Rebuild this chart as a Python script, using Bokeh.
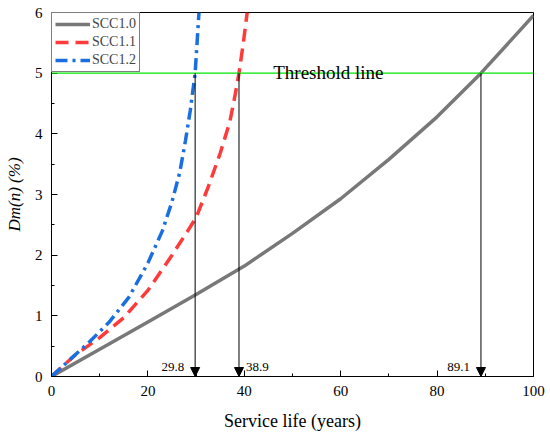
import math
from bokeh.plotting import figure
from bokeh.models import (Range1d, FixedTicker, Span, Label, Arrow, NormalHead,
                          ColumnDataSource, Legend, LegendItem)
from bokeh.embed import file_html
from bokeh.resources import INLINE

# ---------------- data ----------------
years_scc10 = [0, 10, 20, 30, 40, 50, 60, 70, 80, 89.1, 100]
dm_scc10 = [0, 0.45, 0.90, 1.35, 1.82, 2.36, 2.93, 3.58, 4.28, 5.0, 5.95]

years_scc11 = [0, 5, 10, 15, 20, 25, 28.5, 30, 32.5, 35, 37, 38, 38.9, 39.8, 40.6]
dm_scc11 = [0, 0.36, 0.64, 0.97, 1.42, 2.0, 2.43, 2.62, 3.12, 3.68, 4.2, 4.6, 5.0, 5.5, 6.0]

years_scc12 = [0, 4, 8, 12, 16, 20, 23, 25, 26.6, 27.8, 28.8, 29.8, 30.2, 30.6]
dm_scc12 = [0, 0.29, 0.58, 0.90, 1.30, 1.87, 2.40, 2.88, 3.36, 3.89, 4.39, 5.0, 5.5, 6.0]

threshold = 5
crossing_years = [29.8, 38.9, 89.1]
crossing_labels = ["29.8", "38.9", "89.1"]
label_side = ["left", "right", "left"]

x_ticks = [0, 20, 40, 60, 80, 100]
x_minor = [10, 30, 50, 70, 90]
y_ticks = [0, 1, 2, 3, 4, 5, 6]
y_minor = [0.5, 1.5, 2.5, 3.5, 4.5, 5.5]

FONT = "Liberation Serif"

p = figure(width=550, height=436, output_backend="svg", toolbar_location=None,
           x_range=Range1d(0, 100), y_range=Range1d(0, 6),
           min_border_left=51, min_border_right=17, min_border_top=12,
           min_border_bottom=60)
p.background_fill_color = "white"
p.border_fill_color = "white"
p.outline_line_color = "black"
p.outline_line_width = 1
p.xgrid.visible = False
p.ygrid.visible = False

for ax in (p.xaxis[0], p.yaxis[0]):
    ax.major_tick_in = 6
    ax.major_tick_out = 0
    ax.minor_tick_in = 3
    ax.minor_tick_out = 0
    ax.axis_line_color = "black"
    ax.major_tick_line_color = "black"
    ax.minor_tick_line_color = "black"
    ax.major_label_text_font = FONT
    ax.major_label_text_font_size = "15px"
    ax.major_label_text_color = "black"

p.xaxis.ticker = FixedTicker(ticks=x_ticks, minor_ticks=x_minor)
p.yaxis.ticker = FixedTicker(ticks=y_ticks, minor_ticks=y_minor)
p.xaxis.major_label_standoff = 9
p.yaxis.major_label_standoff = 9
p.xaxis.axis_label = "Service life (years)"
p.xaxis.axis_label_text_font = FONT
p.xaxis.axis_label_text_font_style = "normal"
p.xaxis.axis_label_text_font_size = "18px"
p.xaxis.axis_label_text_color = "black"
p.xaxis.axis_label_standoff = 12

p.yaxis.axis_label = "Dm(n) (%)"
p.yaxis.axis_label_text_font = FONT
p.yaxis.axis_label_text_font_style = "italic"
p.yaxis.axis_label_text_font_size = "17px"
p.yaxis.axis_label_text_color = "black"
p.yaxis.axis_label_standoff = 8

# threshold line
p.add_layout(Span(location=threshold, dimension="width", line_color="#00e600", line_width=1.3))
p.add_layout(Label(x=46.0, y=threshold, y_offset=1, text="Threshold line",
                   text_font=FONT, text_font_size="19px", text_color="black",
                   text_baseline="alphabetic", text_align="left"))

# curves
r10 = p.line(years_scc10, dm_scc10, line_color="#787878", line_width=3.5)
r11 = p.line(years_scc11, dm_scc11, line_color="#ff3a3a", line_width=3.5, line_dash="13 7")
r12 = p.line(years_scc12, dm_scc12, line_color="#1a6fe0", line_width=3.5, line_dash="12 5 3 5")

# arrows from the threshold to the time axis
src = ColumnDataSource(dict(x0=crossing_years, y0=[threshold] * len(crossing_years),
                            x1=crossing_years, y1=[0] * len(crossing_years)))
p.add_layout(Arrow(x_start="x0", y_start="y0", x_end="x1", y_end="y1", source=src,
                   line_color="black", line_width=1,
                   end=NormalHead(size=9, fill_color="black", line_color="black")))

for xv, lab, side in zip(crossing_years, crossing_labels, label_side):
    if side == "left":
        p.add_layout(Label(x=xv, y=0, x_offset=-11, y_offset=10, text=lab, text_font=FONT,
                           text_font_size="13px", text_align="right",
                           text_baseline="middle", text_color="black"))
    else:
        p.add_layout(Label(x=xv, y=0, x_offset=7, y_offset=10, text=lab, text_font=FONT,
                           text_font_size="13px", text_align="left",
                           text_baseline="middle", text_color="black"))

# legend
legend = Legend(items=[LegendItem(label="SCC1.0", renderers=[r10]),
                       LegendItem(label="SCC1.1", renderers=[r11]),
                       LegendItem(label="SCC1.2", renderers=[r12])],
                location="top_left", margin=0, padding=3, spacing=2,
                label_text_font=FONT, label_text_font_size="14px",
                label_height=14, glyph_height=14, glyph_width=35, label_standoff=2,
                border_line_color="black", border_line_width=1,
                background_fill_color="white", background_fill_alpha=1)
p.add_layout(legend, "center")

open("out.html", "w").write(file_html(p, INLINE))
